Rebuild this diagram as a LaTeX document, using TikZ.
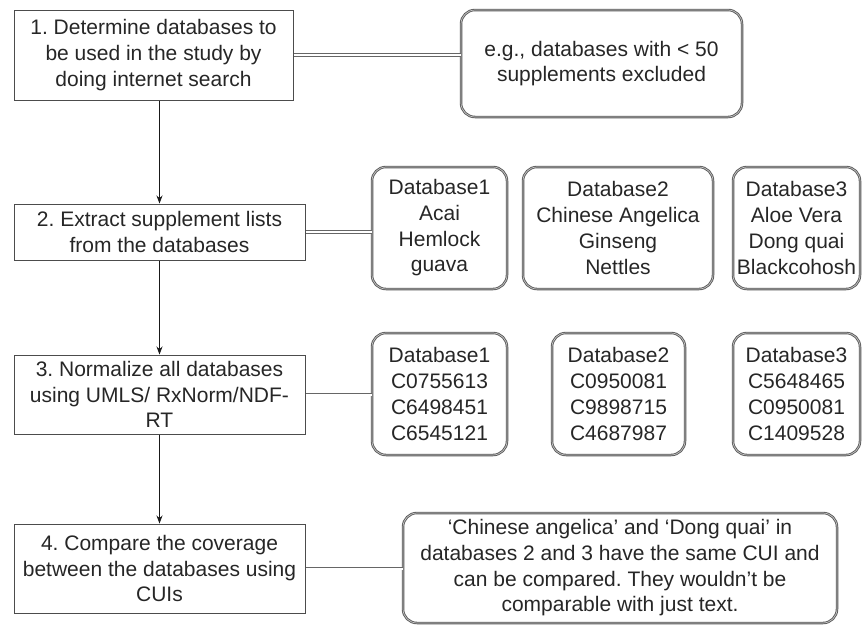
\documentclass[tikz,border=0pt]{standalone}
\usepackage{fontspec}
\setmainfont{Liberation Sans}
\usetikzlibrary{arrows.meta}
\frenchspacing
\begin{document}
\begin{tikzpicture}[x=1pt,y=1pt,
  every node/.style={align=center, inner sep=0pt, font=\fontsize{21}{25.7}\selectfont, text=black!85},
  stepbox/.style={draw=black!70, line width=1pt},
  dbbox/.style={rounded corners=14pt, draw=black!65, double=black!22, double distance=0.7pt, line width=0.9pt},
  link/.style={draw=black!60, double=white, double distance=2pt, line width=0.8pt},
  arr/.style={-{Stealth[length=8pt,width=6pt]}, line width=0.8pt, draw=black!90}]
\useasboundingbox (0,0) rectangle (864,-625);

% left column
\node[stepbox, minimum width=279pt, minimum height=90pt] (s1) at (153.5,-55)
  {1. Determine databases to\\be used in the study by\\doing internet search};
\node[stepbox, minimum width=291pt, minimum height=56pt] (s2) at (159.5,-232)
  {2. Extract supplement lists\\from the databases};
\node[stepbox, minimum width=291pt, minimum height=79pt] (s3) at (159.5,-394.5)
  {3. Normalize all databases\\using UMLS/ RxNorm/NDF-\\RT};
\node[stepbox, minimum width=291pt, minimum height=89pt] (s4) at (159.5,-568.5)
  {4. Compare the coverage\\between the databases using\\CUIs};

% notes
\node[dbbox, minimum width=281pt, minimum height=107pt] (n1) at (601.5,-63.5)
  {e.g., databases with < 50\\supplements excluded};
\node[dbbox, minimum width=434pt, minimum height=110pt] (n4) at (620,-568)
  {`Chinese angelica' and `Dong quai' in\\databases 2 and 3 have the same CUI and\\can be compared. They wouldn't be\\comparable with just text.};

% row 1 databases
\node[dbbox, minimum width=135pt, minimum height=122pt] (a1) at (439.5,-228)
  {Database1\\Acai\\Hemlock\\guava};
\node[dbbox, minimum width=190pt, minimum height=122pt] (a2) at (618,-228)
  {Database2\\Chinese Angelica\\Ginseng\\Nettles};
\node[dbbox, minimum width=127pt, minimum height=122pt] (a3) at (796.5,-228)
  {Database3\\Aloe Vera\\Dong quai\\Blackcohosh};

% row 2 databases
\node[dbbox, minimum width=135pt, minimum height=122pt] (b1) at (439.5,-394)
  {Database1\\C0755613\\C6498451\\C6545121};
\node[dbbox, minimum width=133pt, minimum height=122pt] (b2) at (618.5,-394)
  {Database2\\C0950081\\C9898715\\C4687987};
\node[dbbox, minimum width=127pt, minimum height=122pt] (b3) at (796.5,-394)
  {Database3\\C5648465\\C0950081\\C1409528};

% arrows
\draw[arr] (s2.north |- s1.south) -- (s2.north);
\draw[arr] (s2.south) -- (s3.north);
\draw[arr] (s3.south) -- (s4.north);

% double links
\draw[link] (s1.east) -- (s1.east -| n1.west);
\draw[link] (s2.east) -- (s2.east -| a1.west);
\draw[link] (s3.east) -- (s3.east -| b1.west);
\draw[link] (s4.east) -- (s4.east -| n4.west);
\end{tikzpicture}
\end{document}
